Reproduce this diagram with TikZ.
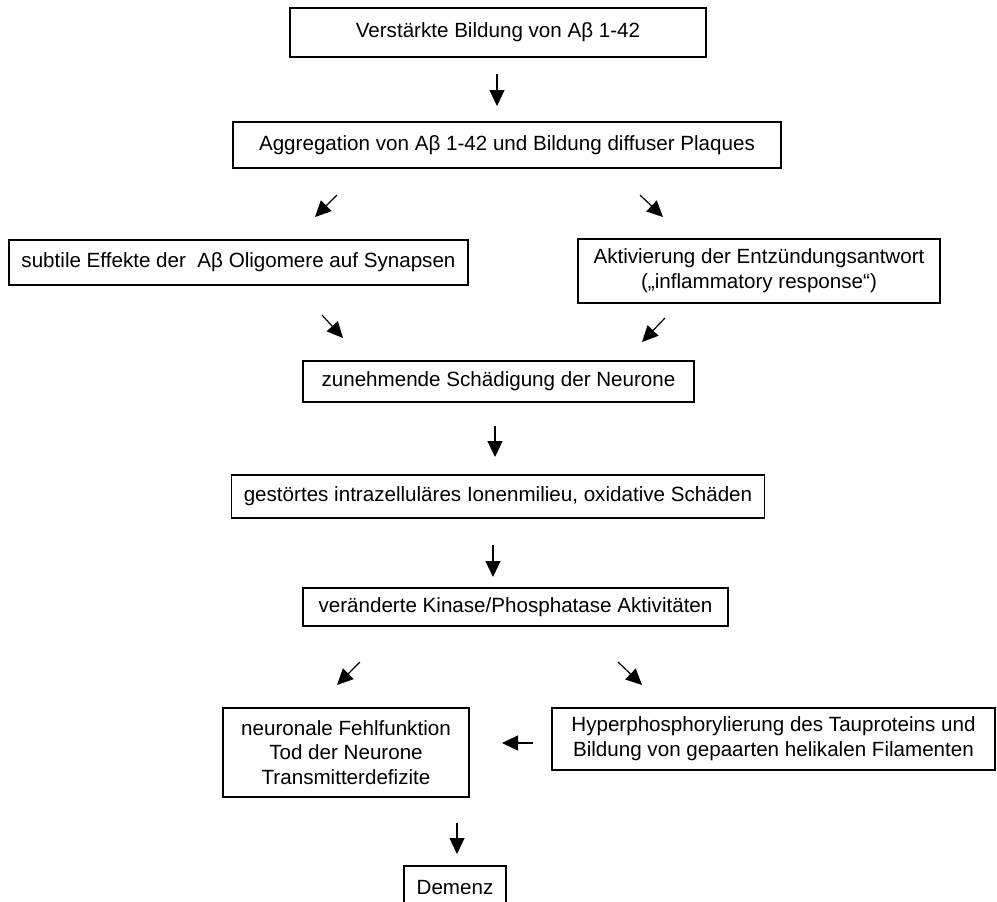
\documentclass[tikz,border=0pt]{standalone}
\usepackage{fontspec}
\setmainfont{Liberation Sans}
\usetikzlibrary{arrows.meta}

\begin{document}
\begin{tikzpicture}[x=0.5pt, y=-0.5pt,
	box/.style={draw, line width=0.7pt, inner sep=0pt, align=center,
		font=\fontsize{10.3}{12.4}\selectfont},
	pfeil/.style={line width=0.6pt, -{Triangle[length=8pt, width=7.5pt]}}]
	
	% Frame
	\clip (0,0) rectangle (997,901);
	
	% Boxes
	\node[box, minimum width=208pt, minimum height=24.5pt] (bildung) at (498,32.5)
		{Verstärkte Bildung von Aβ 1-42};
	\node[box, minimum width=274pt, minimum height=23pt] (aggregation) at (507,145)
		{Aggregation von Aβ 1-42 und Bildung diffuser Plaques};
	\node[box, minimum width=229.5pt, minimum height=22.5pt] (synapsen) at (238.5,262.5)
		{subtile Effekte der~ Aβ Oligomere auf Synapsen};
	\node[box, minimum width=181pt, minimum height=32pt] (entzuendung) at (759,271)
		{Aktivierung der Entzündungsantwort\\(„inflammatory response“)};
	\node[box, minimum width=195.5pt, minimum height=20.5pt] (schaedigung) at (498.5,381.5)
		{zunehmende Schädigung der Neurone};
	\node[box, minimum width=266.5pt, minimum height=21.5pt] (ionen) at (498,496.5)
		{gestörtes intrazelluläres Ionenmilieu, oxidative Schäden};
	\node[box, minimum width=212.5pt, minimum height=19pt] (kinase) at (515.5,607)
		{veränderte Kinase/Phosphatase Aktivitäten};
	\node[box, minimum width=123pt, minimum height=44.5pt] (fehlfunktion) at (346,752.5)
		{neuronale Fehlfunktion\\Tod der Neurone\\Transmitterdefizite};
	\node[box, minimum width=221.5pt, minimum height=31pt] (tau) at (773.5,739)
		{Hyperphosphorylierung des Tauproteins und\\Bildung von gepaarten helikalen Filamenten};
	\node[box, minimum width=51pt, minimum height=22pt] (demenz) at (455,888)
		{Demenz};
	
	% Arrow ends
	\coordinate (pAa) at (497,74);   \coordinate (pAb) at (497,106);
	\coordinate (pBa) at (337,195);  \coordinate (pBb) at (315,217);
	\coordinate (pCa) at (640,195);  \coordinate (pCb) at (663,217);
	\coordinate (pDa) at (322,315);  \coordinate (pDb) at (343,338);
	\coordinate (pEa) at (665,318);  \coordinate (pEb) at (642,342);
	\coordinate (pFa) at (495,426);  \coordinate (pFb) at (495,457);
	\coordinate (pGa) at (493,545);  \coordinate (pGb) at (493,577);
	\coordinate (pHa) at (360,662);  \coordinate (pHb) at (337,685);
	\coordinate (pIa) at (618,662);  \coordinate (pIb) at (642,685);
	\coordinate (pJa) at (533,743);  \coordinate (pJb) at (502,743);
	\coordinate (pKa) at (457,823);  \coordinate (pKb) at (457,854);
	
	% Arrows
	\foreach \p in {A,B,C,D,E,F,G,H,I,J,K}{
		\draw[pfeil] (p\p a) -- (p\p b);
	}
	
\end{tikzpicture}
\end{document}
